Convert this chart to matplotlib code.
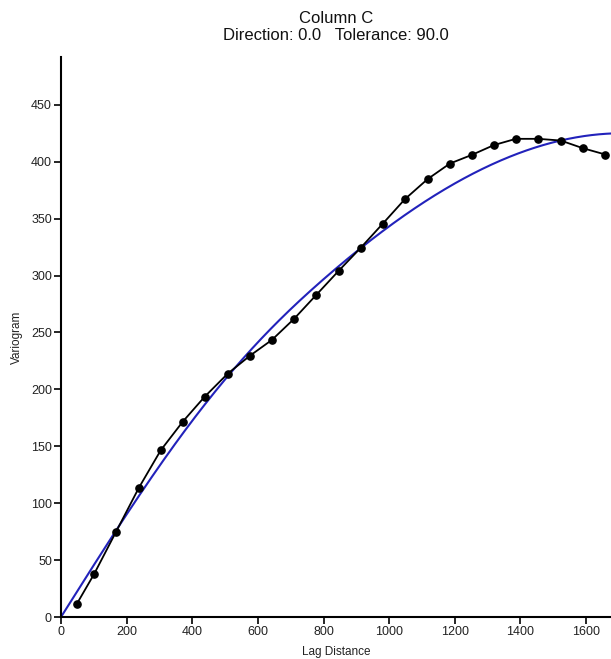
import numpy as np
import matplotlib
matplotlib.use("Agg")
import matplotlib.pyplot as plt

plt.rcParams['font.family'] = ['Liberation Sans', 'DejaVu Sans']

# Experimental variogram (lag distance, variogram value)
lag = [48, 101, 168, 237, 304, 371, 438, 508, 576, 643, 710, 777, 846,
       914, 981, 1048, 1117, 1185, 1252, 1319, 1386, 1455, 1523, 1590, 1659]
gamma = [11.4, 37.8, 75.0, 113.4, 146.5, 171.6, 193.6, 213.8, 229.6, 243.5,
         261.9, 282.7, 304.1, 324.6, 345.7, 367.1, 384.7, 398.4, 406.0,
         414.6, 420.1, 420.1, 418.6, 411.9, 406.3]

# Fitted model: nugget + pentaspherical structure + spherical structure
nugget = 0.0
penta_sill, penta_range = 58.0, 800.0
sph_sill, sph_range = 367.0, 1710.0

x_ticks = [0, 200, 400, 600, 800, 1000, 1200, 1400, 1600]
y_ticks = [0, 50, 100, 150, 200, 250, 300, 350, 400, 450]

title = "Column C\nDirection: 0.0   Tolerance: 90.0"


def spherical(h, sill, rng):
    r = np.minimum(h / rng, 1.0)
    return sill * (1.5 * r - 0.5 * r ** 3)


def pentaspherical(h, sill, rng):
    r = np.minimum(h / rng, 1.0)
    return sill * (15 / 8 * r - 5 / 4 * r ** 3 + 3 / 8 * r ** 5)


fig = plt.figure(figsize=(6.11, 6.59), dpi=100)
ax = fig.add_axes([61 / 611, 42 / 659, 1 - 61 / 611, (617 - 57) / 659])

h = np.linspace(0, 1676, 600)
model = (nugget + pentaspherical(h, penta_sill, penta_range)
         + spherical(h, sph_sill, sph_range))
ax.plot(h, model, color='#2222bb', lw=1.5, zorder=2)
ax.plot(lag, gamma, color='black', lw=1.3, marker='o', markersize=5.2,
        zorder=3, clip_on=False)

ax.set_xlim(0, 1676)
ax.set_ylim(0, 492)
ax.set_xticks(x_ticks)
ax.set_yticks(y_ticks)
ax.tick_params(direction='out', length=5, width=1.2, labelsize=9,
               colors='black', labelcolor='#222222', pad=1.5)
for side in ['top', 'right']:
    ax.spines[side].set_visible(False)
for side in ['left', 'bottom']:
    ax.spines[side].set_linewidth(1.5)

ax.set_xlabel("Lag Distance", fontsize=8.5, labelpad=6, color='#222222')
ax.set_ylabel("Variogram", fontsize=8.5, labelpad=6, color='#222222')
fig.text(336 / 611, 1 - 27 / 659, title, ha='center', va='center', fontsize=12,
         linespacing=1.15, color='#111111')

fig.savefig("out.png", dpi=100)
